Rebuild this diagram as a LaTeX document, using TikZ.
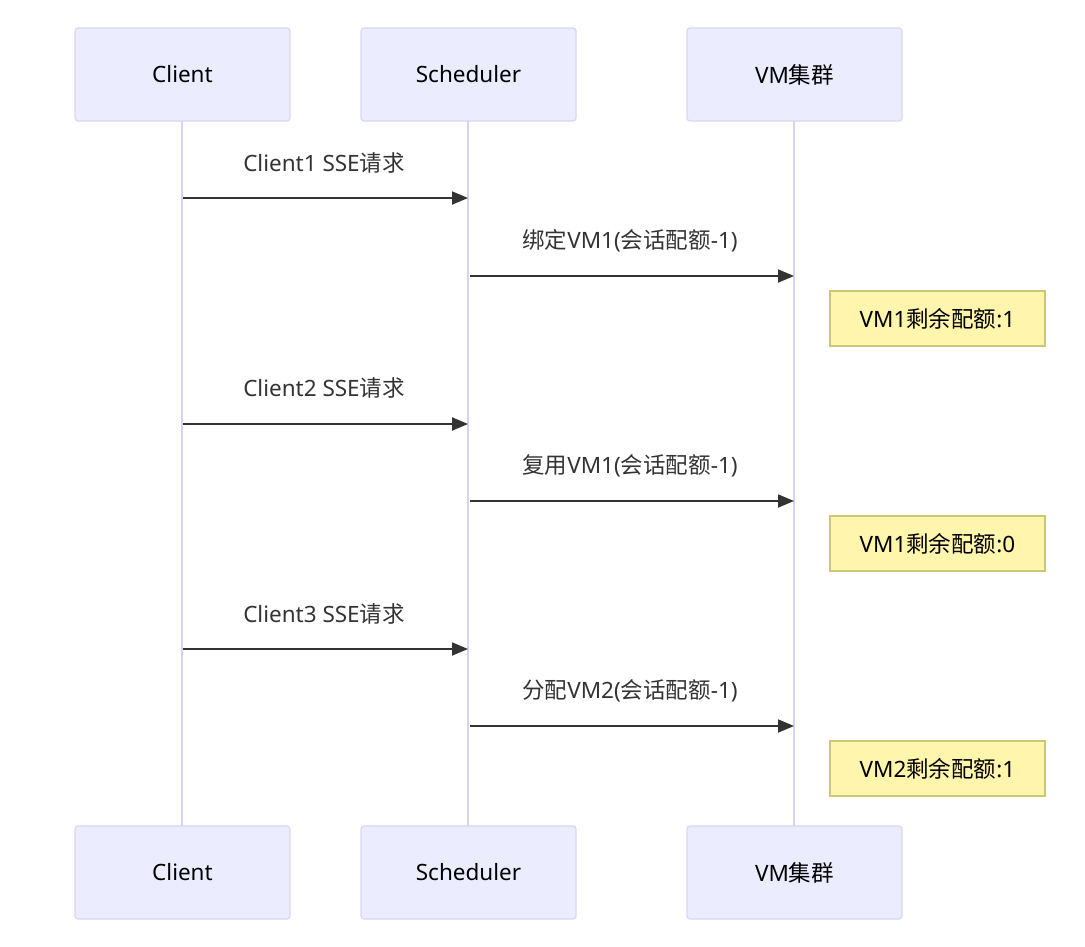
\documentclass[tikz,border=0pt]{standalone}
\usepackage{fontspec}
\setmainfont{Noto Sans}
\newfontfamily\cjk{Noto Sans CJK SC}
\usetikzlibrary{arrows.meta}
\definecolor{actfill}{HTML}{ECECFF}
\definecolor{actdraw}{HTML}{DAD6F2}
\definecolor{lifel}{HTML}{D5D3F0}
\definecolor{notefill}{HTML}{FFF5AD}
\definecolor{notedraw}{HTML}{C8C878}
\definecolor{txt}{HTML}{333333}
\tikzset{
  actor/.style={draw=actdraw, fill=actfill, line width=1.2pt, rounded corners=3pt,
    minimum width=215pt, minimum height=93pt, inner sep=0pt, text=black,
    font=\fontsize{22.5}{27}\selectfont},
  lifeline/.style={draw=lifel, line width=2pt},
  msg/.style={draw=txt, line width=1.8pt, -{Triangle[length=16pt,width=13pt]}},
  msglabel/.style={text=txt, font=\fontsize{22.5}{27}\selectfont, inner sep=0pt},
  note/.style={draw=notedraw, fill=notefill, line width=1.2pt,
    minimum width=215pt, minimum height=55pt, inner sep=0pt, text=black,
    font=\fontsize{22.5}{27}\selectfont}
}
\begin{document}
\begin{tikzpicture}[x=1pt,y=-1pt]
\useasboundingbox (0,0) rectangle (1085,946);
% lifelines
\coordinate (c1) at (182,121); \coordinate (c2) at (182,826);
\coordinate (s1) at (468,121); \coordinate (s2) at (468,826);
\coordinate (v1) at (794,121); \coordinate (v2) at (794,826);
\draw[lifeline] (c1) -- (c2);
\draw[lifeline] (s1) -- (s2);
\draw[lifeline] (v1) -- (v2);
% actors
\node[actor] (ct) at (182.5,74.5) {Client};
\node[actor] (st) at (468.5,74.5) {Scheduler};
\node[actor] (vt) at (794.5,74.5) {VM{\cjk 集群}};
\node[actor] (cb) at (182.5,872.5) {Client};
\node[actor] (sb) at (468.5,872.5) {Scheduler};
\node[actor] (vb) at (794.5,872.5) {VM{\cjk 集群}};
% messages
\foreach \i/\ya/\yb in {1/198/276, 2/424/501, 3/649/726}{
  \coordinate (ca\i) at (183,\ya); \coordinate (sa\i) at (468,\ya);
  \coordinate (sb\i) at (470,\yb); \coordinate (vb\i) at (794,\yb);
}
\draw[msg] (ca1) -- (sa1);
\draw[msg] (sb1) -- (vb1);
\draw[msg] (ca2) -- (sa2);
\draw[msg] (sb2) -- (vb2);
\draw[msg] (ca3) -- (sa3);
\draw[msg] (sb3) -- (vb3);
\node[msglabel] (l1) at (324,163) {Client1 SSE{\cjk 请求}};
\node[msglabel] (l2) at (630,241) {{\cjk 绑定}VM1({\cjk 会话配额}-1)};
\node[msglabel] (l3) at (324,388) {Client2 SSE{\cjk 请求}};
\node[msglabel] (l4) at (630,466) {{\cjk 复用}VM1({\cjk 会话配额}-1)};
\node[msglabel] (l5) at (324,614) {Client3 SSE{\cjk 请求}};
\node[msglabel] (l6) at (630,691) {{\cjk 分配}VM2({\cjk 会话配额}-1)};
% notes
\node[note] (n1) at (937.5,318.5) {VM1{\cjk 剩余配额}:1};
\node[note] (n2) at (937.5,543.5) {VM1{\cjk 剩余配额}:0};
\node[note] (n3) at (937.5,768.5) {VM2{\cjk 剩余配额}:1};
\end{tikzpicture}
\end{document}
